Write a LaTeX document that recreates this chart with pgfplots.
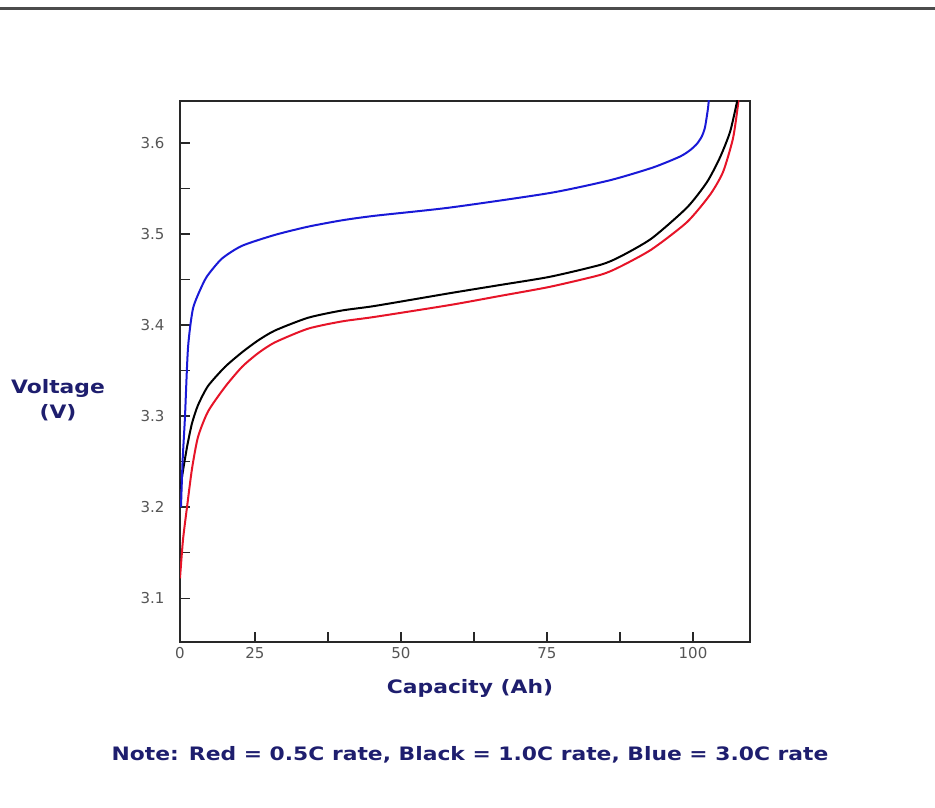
\documentclass[border=0pt]{standalone}
\usepackage{fontspec}
\setmainfont{DejaVu Sans}
\newfontfamily\labfont[FakeStretch=1.18]{DejaVu Sans}
\usepackage{pgfplots}
\pgfplotsset{compat=1.18}

\definecolor{navy}{RGB}{30,30,110}
\definecolor{tickgray}{RGB}{85,85,85}
\definecolor{axisgray}{RGB}{40,40,40}
\definecolor{cred}{RGB}{230,20,40}
\definecolor{cblue}{RGB}{25,25,215}

\begin{document}
\begin{tikzpicture}[x=1pt,y=1pt]
\useasboundingbox (0,0) rectangle (935,808);
% top rule
\draw[line width=3pt, color=gray!60!black] (0,799) -- (935,799);

\begin{axis}[
    at={(180pt,166pt)}, anchor=south west,
    scale only axis,
    width=570pt, height=541pt,
    xmin=12.16, xmax=109.76,
    ymin=3.052, ymax=3.646,
    axis line style={color=axisgray, line width=2pt},
    xtick={25,37.5,50,62.5,75,87.5,100},
    xticklabels={25,,50,,75,,100},
    extra x ticks={12.16},
    extra x tick labels={0},
    extra x tick style={major tick length=0pt},
    ytick={3.1,3.2,3.3,3.4,3.5,3.6},
    minor ytick={3.15,3.25,3.35,3.45,3.55},
    xtick pos=bottom, ytick pos=left,
    tick align=inside,
    major tick length=10pt, minor tick length=10pt,
    every tick/.style={color=axisgray, line width=1.5pt},
    tick label style={font=\fontsize{15}{17}\selectfont, text=tickgray},
    /pgf/number format/assume math mode=true,
    yticklabel style={/pgf/number format/fixed, /pgf/number format/precision=1,
        /pgf/number format/fixed zerofill, xshift=-12pt},
    xticklabel style={yshift=-2pt},
    every axis plot/.append style={line width=2pt, smooth, tension=0.4},
    clip=true,
]
% Red = 0.5C
\addplot[color=cred] coordinates {
    (12.16,3.122) (12.67,3.164) (13.36,3.200) (14.21,3.242) (15.24,3.277)
    (16.95,3.305) (19.86,3.332) (22.77,3.354) (25.51,3.369) (28.42,3.381)
    (34.08,3.396) (39.90,3.404) (45.55,3.409) (58.39,3.422) (67.00,3.432)
    (75.51,3.442) (84.08,3.455) (87.50,3.464) (92.90,3.483) (98.97,3.513)
    (102.91,3.543) (105.14,3.568) (106.85,3.605) (107.71,3.642) (107.80,3.650)
};
% Black = 1.0C
\addplot[color=black] coordinates {
    (12.33,3.220) (12.50,3.233) (13.36,3.266) (14.21,3.292) (15.24,3.312)
    (16.95,3.333) (19.86,3.354) (22.77,3.370) (25.51,3.383) (28.42,3.394)
    (34.08,3.408) (39.90,3.416) (45.55,3.421) (58.39,3.435) (67.00,3.444)
    (75.51,3.453) (84.08,3.466) (87.50,3.475) (92.90,3.495) (98.97,3.529)
    (102.40,3.557) (104.62,3.584) (106.34,3.612) (107.53,3.645) (107.60,3.650)
};
% Blue = 3.0C
\addplot[color=cblue] coordinates {
    (12.33,3.200) (12.60,3.250) (13.01,3.299) (13.53,3.375) (14.38,3.418)
    (15.92,3.443) (16.95,3.455) (19.35,3.473) (22.77,3.487) (28.42,3.499)
    (34.08,3.508) (39.90,3.515) (45.55,3.520) (58.39,3.529) (75.51,3.545)
    (85.79,3.559) (93.15,3.573) (97.77,3.585) (99.50,3.592) (100.68,3.599)
    (101.50,3.607) (102.05,3.617) (102.57,3.638) (102.74,3.650)
};
\end{axis}

\tikzset{lab/.style={font=\labfont\bfseries\fontsize{18.5}{20}\selectfont, text=navy}}
\node[lab] at (58,420) {Voltage};
\node[lab] at (58,395) {(V)};
\node[lab] at (470,120) {Capacity (Ah)};
\node[lab] at (470,53) {Note: Red = 0.5C rate, Black = 1.0C rate, Blue = 3.0C rate};
\end{tikzpicture}
\end{document}
